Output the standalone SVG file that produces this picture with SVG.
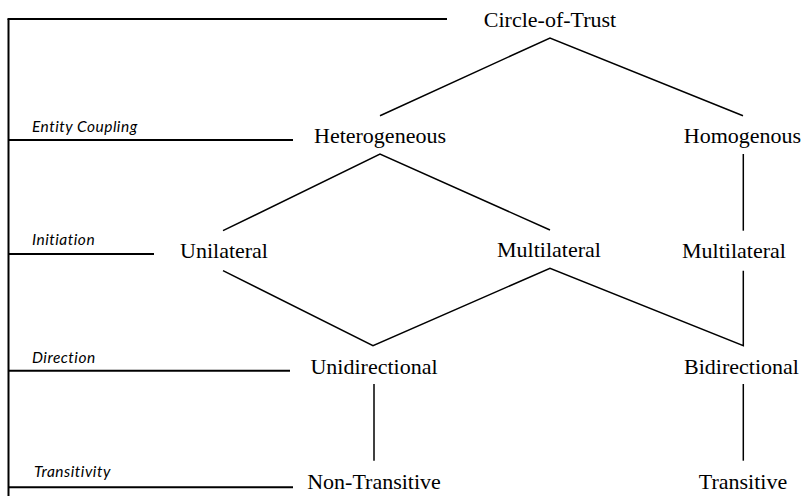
<svg xmlns="http://www.w3.org/2000/svg" width="803" height="496" viewBox="0 0 803 496">
<style>
.n{font-family:"Liberation Serif","Times New Roman",serif;font-size:22px;fill:#000;text-anchor:middle}
.l{font-family:Lato,"Open Sans",sans-serif;font-style:italic;font-size:15.5px;letter-spacing:0.5px;fill:#000}
.ax{stroke:#000;stroke-width:2;fill:none}
.c{stroke:#000;stroke-width:1.5;fill:none}
</style>
<rect width="803" height="496" fill="#fff"/>
<g id="axis">
<line class="ax" x1="8.5" y1="19" x2="8.5" y2="496"/>
<line class="ax" x1="7.5" y1="19" x2="447" y2="19"/>
<line class="ax" x1="8.5" y1="140" x2="293" y2="140"/>
<line class="ax" x1="8.5" y1="254" x2="154" y2="254"/>
<line class="ax" x1="8.5" y1="370.7" x2="290" y2="370.7"/>
<line class="ax" x1="8.5" y1="487.3" x2="293" y2="487.3"/>
</g>
<g id="labels">
<text class="l" x="32" y="132">Entity Coupling</text>
<text class="l" x="32" y="245">Initiation</text>
<text class="l" x="32" y="362.5">Direction</text>
<text class="l" x="34" y="476.5">Transitivity</text>
</g>
<g id="connectors">
<polyline class="c" points="380,115.7 550,38 743,115.7"/>
<line class="c" x1="743.3" y1="154" x2="743.3" y2="230.7"/>
<polyline class="c" points="223,230.7 380,154 550,230"/>
<polyline class="c" points="223,270.7 373,345.7 550,268.3 743.3,345.7 743.3,270.7"/>
<line class="c" x1="374" y1="384" x2="374" y2="460.7"/>
<line class="c" x1="743.3" y1="384" x2="743.3" y2="460.7"/>
</g>
<g id="n-circle"><text class="n" x="550" y="27">Circle-of-Trust</text></g>
<g id="n-heterogeneous"><text class="n" x="380" y="143.3">Heterogeneous</text></g>
<g id="n-homogenous"><text class="n" x="742.5" y="143.3">Homogenous</text></g>
<g id="n-unilateral"><text class="n" x="224" y="258">Unilateral</text></g>
<g id="n-multilateral1"><text class="n" x="549" y="257">Multilateral</text></g>
<g id="n-multilateral2"><text class="n" x="734" y="258">Multilateral</text></g>
<g id="n-unidirectional"><text class="n" x="374" y="374">Unidirectional</text></g>
<g id="n-bidirectional"><text class="n" x="741.5" y="374">Bidirectional</text></g>
<g id="n-nontransitive"><text class="n" x="374" y="489">Non-Transitive</text></g>
<g id="n-transitive"><text class="n" x="743" y="489">Transitive</text></g>
</svg>
